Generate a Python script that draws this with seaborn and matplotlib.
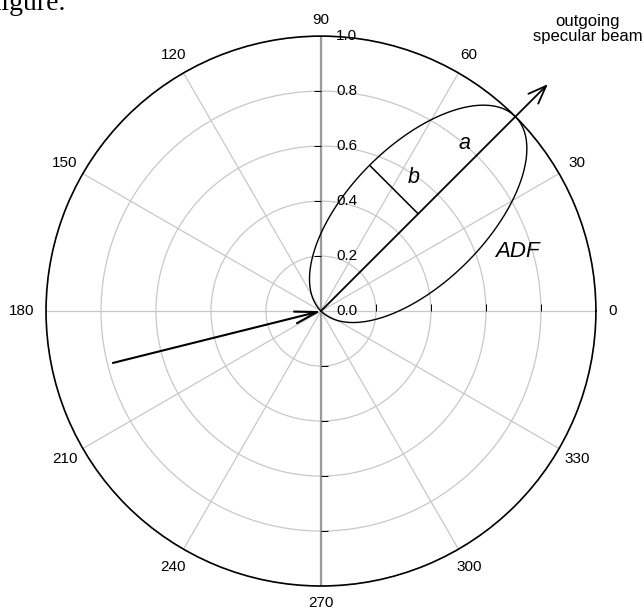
import numpy as np
import pandas as pd
import matplotlib
matplotlib.use("Agg")
import matplotlib.pyplot as plt
import seaborn as sns

# ---- data ----
theta_ticks_deg = [0, 30, 60, 90, 120, 150, 180, 210, 240, 270, 300, 330]
theta_tick_labels = ["0", "30", "60", "90", "120", "150", "180", "210", "240", "270", "300", "330"]
r_ticks = [0.0, 0.2, 0.4, 0.6, 0.8, 1.0]
r_tick_labels = ["0.0", "0.2", "0.4", "0.6", "0.8", "1.0"]

specular_angle_deg = 45.0      # outgoing specular beam direction
ellipse_a = 0.5                # ADF ellipse semi-major axis
ellipse_b = 0.25               # ADF ellipse semi-minor axis
outgoing_r = 1.167             # length of outgoing arrow
incoming_angle_deg = 194.0     # incoming beam direction
incoming_r = 0.78              # length of incoming arrow

# ---- style ----
sns.set_style("white")
plt.rcParams["font.family"] = ["Liberation Sans", "DejaVu Sans"]
plt.rcParams["text.color"] = "black"

fig = plt.figure(figsize=(6.44, 6.11), dpi=100)
ax = fig.add_axes([0.0714, 0.0409, 0.854, 0.900], projection="polar")

# ellipse through the origin (ADF)
phi = np.deg2rad(specular_angle_deg)
t = np.linspace(np.pi, 3 * np.pi, 721)
cx, cy = ellipse_a * np.cos(phi), ellipse_a * np.sin(phi)
ex = cx + ellipse_a * np.cos(t) * np.cos(phi) - ellipse_b * np.sin(t) * np.sin(phi)
ey = cy + ellipse_a * np.cos(t) * np.sin(phi) + ellipse_b * np.sin(t) * np.cos(phi)
ell = pd.DataFrame({"theta": np.arctan2(ey, ex), "r": np.hypot(ex, ey)})
ell.iloc[0, :] = [phi + np.pi / 2, 0.0]
ell.iloc[-1, :] = [phi - np.pi / 2, 0.0]

# darker 90-270 axis line
vax = pd.DataFrame({"theta": np.deg2rad([90, 90, 270, 270]), "r": [1, 0, 0, 1]})
sns.lineplot(data=vax, x="theta", y="r", sort=False, estimator=None, ax=ax,
             color="#9a9a9a", lw=1.6, zorder=2)

sns.lineplot(data=ell, x="theta", y="r", sort=False, estimator=None, ax=ax,
             color="black", lw=1.0, zorder=4)

# b segment: ellipse centre to minor-axis end
bx = np.linspace(cx, cx - ellipse_b * np.sin(phi), 20)
by = np.linspace(cy, cy + ellipse_b * np.cos(phi), 20)
bseg = pd.DataFrame({"theta": np.arctan2(by, bx), "r": np.hypot(bx, by)})
sns.lineplot(data=bseg, x="theta", y="r", sort=False, estimator=None, ax=ax,
             color="black", lw=1.1, zorder=4)

# outgoing arrow
ax.annotate("", xy=(phi, outgoing_r), xytext=(phi, 0.0), annotation_clip=False,
            arrowprops=dict(arrowstyle="->,head_length=1.3,head_width=0.5",
                            mutation_scale=10, lw=1.3, color="black",
                            shrinkA=0, shrinkB=0), zorder=5)
# incoming arrow
ax.annotate("", xy=(0.0, 0.0), xytext=(np.deg2rad(incoming_angle_deg), incoming_r),
            annotation_clip=False,
            arrowprops=dict(arrowstyle="->,head_length=1.6,head_width=0.43",
                            mutation_scale=10, lw=1.5, color="black",
                            shrinkA=0, shrinkB=0), zorder=5)

ax.set_ylim(0, 1)
ax.set_thetagrids(theta_ticks_deg, labels=[""] * len(theta_ticks_deg))
ax.set_rticks(r_ticks[1:])
ax.set_yticklabels([])
ax.set_xlabel("")
ax.set_ylabel("")
ax.grid(True, color="#c8c8c8", lw=0.9)
ax.spines["polar"].set_color("black")
ax.spines["polar"].set_linewidth(1.2)
ax.tick_params(axis="x", direction="out", length=5, width=0.9, color="black")
ax.tick_params(axis="y", length=0)

# theta labels
for deg, lab in zip(theta_ticks_deg, theta_tick_labels):
    rad = 1.06 if deg in (0, 90, 270) else (1.088 if deg == 180 else 1.075)
    ax.text(np.deg2rad(deg), rad, lab, ha="center", va="center", fontsize=11,
            clip_on=False)

# radial tick marks and labels
rt = r_ticks[1:]
ax.plot([np.pi / 2] * len(rt), rt, ls="none", marker=0, ms=5, mew=0.7, color="black", zorder=3)
ax.plot([3 * np.pi / 2] * len(rt), rt, ls="none", marker=1, ms=5, mew=0.7, color="black", zorder=3)
ax.plot([0.0] * len(rt), rt, ls="none", marker=2, ms=5, mew=0.7, color="black", zorder=3)
for r, lab in zip(r_ticks, r_tick_labels):
    ax.annotate(lab, xy=(np.pi / 2, r), xytext=(18.5, 0), textcoords="offset points",
                ha="center", va="center", fontsize=11, annotation_clip=False)

# annotations
ax.text(np.deg2rad(49.4), 0.805, "a", style="italic", fontsize=15.5, ha="center", va="center")
ax.text(np.deg2rad(55.2), 0.593, "b", style="italic", fontsize=15.5, ha="center", va="center")
ax.text(np.deg2rad(16.8), 0.745, "ADF", style="italic", fontsize=16, ha="center", va="center")
fig.text(588 / 644, 1 - 29 / 611, "outgoing\nspecular beam", ha="center", va="center",
         fontsize=12, linespacing=1.0)

# clipped surrounding-document text
fig.text(-8 / 644, 1 - 10 / 611, "figure.", family="Liberation Serif", fontsize=20,
         ha="left", va="baseline")

fig.savefig("out.png", dpi=100)
